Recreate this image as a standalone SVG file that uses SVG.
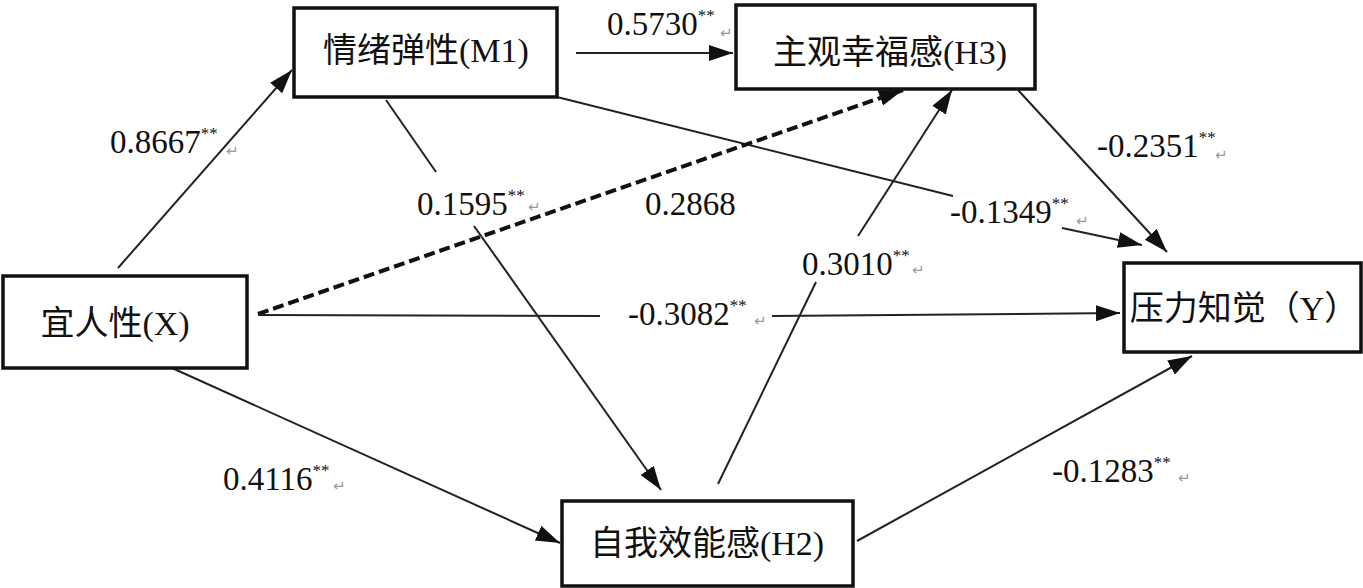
<svg xmlns="http://www.w3.org/2000/svg" width="1363" height="588" viewBox="0 0 1363 588">
<style>
.box{fill:#fff;stroke:#111;stroke-width:3.5}
.nt{font-family:"Liberation Serif","Noto Sans CJK SC",serif;font-size:34px;fill:#111;text-anchor:middle}
.lb{font-family:"Liberation Serif","Noto Sans CJK SC",serif;font-size:33px;fill:#111}
.sup{font-size:17px}
.rt{font-family:"DejaVu Sans",sans-serif;font-size:15px;fill:#999}
.ln{stroke:#222;stroke-width:2;fill:none}
.dash{stroke:#111;stroke-width:4;stroke-dasharray:11,5;fill:none}
</style>
<defs>
<marker id="ah" markerUnits="userSpaceOnUse" markerWidth="26" markerHeight="18" refX="24" refY="8" orient="auto" viewBox="0 0 26 18">
<path d="M0,0 L24,8 L0,16 z" fill="#111"/>
</marker>
</defs>
<g id="connectors">
<line class="ln" x1="118" y1="268" x2="292" y2="70" marker-end="url(#ah)"/>
<line class="ln" x1="576" y1="53" x2="733" y2="53" marker-end="url(#ah)"/>
<line class="ln" x1="557" y1="97" x2="953" y2="196"/>
<line class="ln" x1="1062" y1="228" x2="1142" y2="245" marker-end="url(#ah)"/>
<line class="ln" x1="386" y1="100" x2="436" y2="172"/>
<line class="ln" x1="474" y1="226" x2="661" y2="490" marker-end="url(#ah)"/>
<line class="dash" x1="258" y1="314" x2="903" y2="90" marker-end="url(#ah)"/>
<line class="ln" x1="718" y1="484" x2="816" y2="282"/>
<line class="ln" x1="858" y1="236" x2="952" y2="90" marker-end="url(#ah)"/>
<line class="ln" x1="172" y1="368" x2="560" y2="543" marker-end="url(#ah)"/>
<line class="ln" x1="857" y1="541" x2="1192" y2="356" marker-end="url(#ah)"/>
<line class="ln" x1="1018" y1="90" x2="1167" y2="252" marker-end="url(#ah)"/>
<line class="ln" x1="258" y1="315" x2="600" y2="316"/>
<line class="ln" x1="772" y1="316" x2="1120" y2="313" marker-end="url(#ah)"/>
</g>
<g id="labels">
<text class="lb" x="110" y="153">0.8667<tspan class="sup" dy="-14">**</tspan></text><text class="rt" x="226" y="156">↵</text>
<text class="lb" x="607" y="35">0.5730<tspan class="sup" dy="-14">**</tspan></text><text class="rt" x="720" y="38">↵</text>
<text class="lb" x="417" y="215">0.1595<tspan class="sup" dy="-14">**</tspan></text><text class="rt" x="528" y="212">↵</text>
<text class="lb" x="645" y="215">0.2868</text>
<text class="lb" x="950" y="223">-0.1349<tspan class="sup" dy="-14">**</tspan></text><text class="rt" x="1076" y="226">↵</text>
<text class="lb" x="802" y="275">0.3010<tspan class="sup" dy="-14">**</tspan></text><text class="rt" x="912" y="275">↵</text>
<text class="lb" x="628" y="325">-0.3082<tspan class="sup" dy="-14">**</tspan></text><text class="rt" x="754" y="326">↵</text>
<text class="lb" x="223" y="490">0.4116<tspan class="sup" dy="-14">**</tspan></text><text class="rt" x="333" y="491">↵</text>
<text class="lb" x="1052" y="482">-0.1283<tspan class="sup" dy="-14">**</tspan></text><text class="rt" x="1178" y="483">↵</text>
<text class="lb" x="1097" y="157">-0.2351<tspan class="sup" dy="-14">**</tspan></text><text class="rt" x="1215" y="160">↵</text>
</g>
<g id="node-M1"><rect class="box" x="294" y="8" width="263" height="89"/><text class="nt" x="426" y="62">情绪弹性(M1)</text></g>
<g id="node-H3"><rect class="box" x="736" y="5" width="299" height="84"/><text class="nt" x="890" y="64">主观幸福感(H3)</text></g>
<g id="node-X"><rect class="box" x="3" y="276" width="244" height="92"/><text class="nt" x="115" y="335">宜人性(X)</text></g>
<g id="node-Y"><rect class="box" x="1124" y="263" width="237" height="89"/><text class="nt" x="1244" y="320">压力知觉（Y）</text></g>
<g id="node-H2"><rect class="box" x="562" y="501" width="291" height="85"/><text class="nt" x="707" y="555">自我效能感(H2)</text></g>
</svg>
